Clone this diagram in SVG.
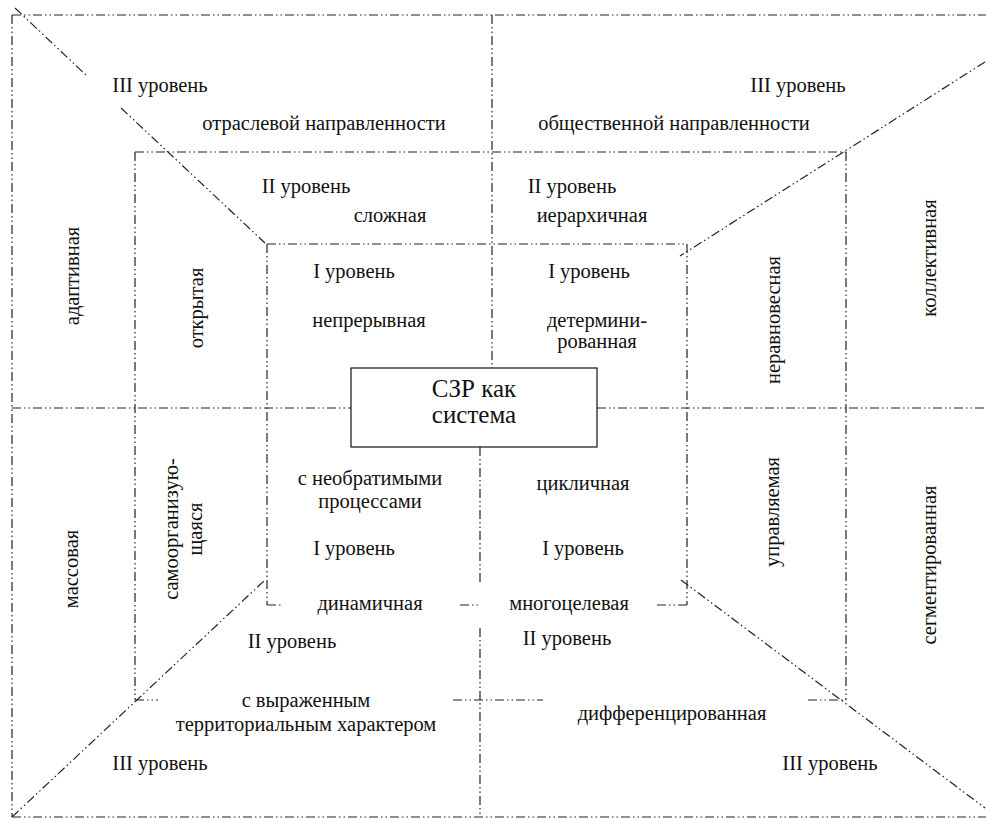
<svg xmlns="http://www.w3.org/2000/svg" width="986" height="821" viewBox="0 0 986 821">
  <style>
    .ln { fill: none; stroke: #222; stroke-width: 1.2; stroke-dasharray: 9 3 1.5 3 1.5 3; }
    .box { fill: #fff; stroke: #111; stroke-width: 1.2; }
    .lbl { font-family: "Liberation Serif", "Tinos", "DejaVu Serif", serif; font-size: 20.5px; fill: #111; text-anchor: middle; }
    .big { font-size: 25px; }
  </style>
  <rect width="986" height="821" fill="#fff"/>

  <!-- dash-dot-dot frame, sector borders and diagonals -->
  <g id="connectors">
    <!-- outer frame -->
    <path class="ln" d="M12 15 H986 M12 15 V817 M12 817 H986"/>
    <!-- level II frame -->
    <path class="ln" d="M135 152 H846 M135 152 V700 M846 152 V700"/>
    <path class="ln" d="M135 700 H158 M453 700 H543 M808 700 H846"/>
    <!-- level I frame -->
    <path class="ln" d="M267 244 H687 M267 244 V605 M687 244 V605"/>
    <path class="ln" d="M267 605 H283 M460 605 H481 M657 605 H687"/>
    <!-- central cross -->
    <path class="ln" d="M492 15 V368 M480 447 V584 M480 628 V817"/>
    <path class="ln" d="M12 408 H351 M597 408 H986"/>
    <!-- diagonals -->
    <path class="ln" d="M15 8 L87 76 M121 108 L265 243"/>
    <path class="ln" d="M985 62 L680 256"/>
    <path class="ln" d="M12 817 L265 580"/>
    <path class="ln" d="M681 580 L985 808"/>
  </g>

  <g id="center" class="lbl" font-family="Liberation Serif, serif">
    <rect class="box" x="351" y="368" width="246" height="79"/>
    <text class="lbl big" x="474" y="397">СЗР как</text>
    <text class="lbl big" x="474" y="423">система</text>
  </g>

  <g id="top-left" class="lbl" font-family="Liberation Serif, serif">
    <text x="160" y="92">III уровень</text>
    <text x="324" y="130">отраслевой направленности</text>
    <text x="306" y="193">II уровень</text>
    <text x="390" y="222">сложная</text>
    <text x="354" y="278">I уровень</text>
    <text x="369" y="327">непрерывная</text>
  </g>

  <g id="top-right" class="lbl" font-family="Liberation Serif, serif">
    <text x="798" y="92">III уровень</text>
    <text x="674" y="130">общественной направленности</text>
    <text x="572" y="193">II уровень</text>
    <text x="592" y="222">иерархичная</text>
    <text x="589" y="278">I уровень</text>
    <text x="597" y="327">детермини-</text>
    <text x="597" y="348">рованная</text>
  </g>

  <g id="bottom-left" class="lbl" font-family="Liberation Serif, serif">
    <text x="370" y="485">с необратимыми</text>
    <text x="370" y="508">процессами</text>
    <text x="354" y="555">I уровень</text>
    <text x="370" y="610">динамичная</text>
    <text x="292" y="648">II уровень</text>
    <text x="306" y="707">с выраженным</text>
    <text x="306" y="731">территориальным характером</text>
    <text x="160" y="770">III уровень</text>
  </g>

  <g id="bottom-right" class="lbl" font-family="Liberation Serif, serif">
    <text x="583" y="490">цикличная</text>
    <text x="583" y="555">I уровень</text>
    <text x="569" y="610">многоцелевая</text>
    <text x="567" y="645">II уровень</text>
    <text x="672" y="720">дифференцированная</text>
    <text x="830" y="770">III уровень</text>
  </g>

  <!-- vertical labels, read bottom to top -->
  <g id="left-side" class="lbl" font-family="Liberation Serif, serif">
    <text transform="translate(79 276) rotate(-90)">адаптивная</text>
    <text transform="translate(203 308) rotate(-90)">открытая</text>
    <text transform="translate(78 569) rotate(-90)">массовая</text>
    <text transform="translate(178 529) rotate(-90)">самоорганизую-</text>
    <text transform="translate(202 529) rotate(-90)">щаяся</text>
  </g>

  <g id="right-side" class="lbl" font-family="Liberation Serif, serif">
    <text transform="translate(780 320) rotate(-90)">неравновесная</text>
    <text transform="translate(936 258) rotate(-90)">коллективная</text>
    <text transform="translate(779 512) rotate(-90)">управляемая</text>
    <text transform="translate(936 565) rotate(-90)">сегментированная</text>
  </g>
</svg>
